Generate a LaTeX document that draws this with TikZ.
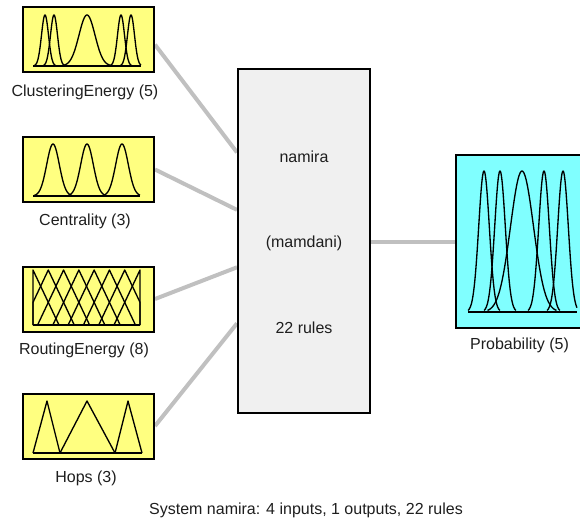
\documentclass[tikz,border=0pt]{standalone}
\usepackage{fontspec}
\setmainfont{Liberation Sans}
\usetikzlibrary{calc,backgrounds}
\definecolor{mfyellow}{HTML}{FFFF80}
\definecolor{mfcyan}{HTML}{80FFFF}
\definecolor{rulegray}{HTML}{F0F0F0}
\definecolor{conngray}{HTML}{C0C0C0}
\definecolor{txt}{HTML}{1E1E1E}
% gaussian MF: center, sigma, xmin, xmax, baseline y, top y
\newcommand\gmf[6]{%
  \pgfmathsetmacro\gmfa{max(#3,#1-3*#2)}%
  \pgfmathsetmacro\gmfb{min(#4,#1+3*#2)}%
  \draw[mf] plot[domain=\gmfa:\gmfb,samples=60,smooth]
    (\x,{#5-(#5-#6)*exp(-((\x-#1)*(\x-#1))/(2*#2*#2))});%
}
\begin{document}
\begin{tikzpicture}[x=0.75pt,y=-0.75pt,
  inbox/.style={draw=black,line width=1.5pt,fill=mfyellow,minimum width=98.25pt,minimum height=48.75pt,inner sep=0pt},
  rulebox/.style={draw=black,line width=1.5pt,fill=rulegray,minimum width=99pt,minimum height=258pt,inner sep=0pt},
  outbox/.style={draw=black,line width=1.5pt,fill=mfcyan,minimum width=96pt,minimum height=129.75pt,inner sep=0pt},
  conn/.style={draw=conngray,line width=3pt},
  mf/.style={draw=black,line width=1pt,line join=round},
  lbl/.style={text=txt,font=\fontsize{12}{14}\selectfont,inner sep=0pt}]
\useasboundingbox (0,0) rectangle (580,520);

\node[inbox] (in1) at (88.5,40) {};
\node[inbox] (in2) at (88.5,169.5) {};
\node[inbox] (in3) at (88.5,299) {};
\node[inbox] (in4) at (88.5,426) {};
\node[rulebox] (rule) at (304,241) {};
\node[outbox] (out) at (520,241.5) {};

\begin{scope}[on background layer]
\draw[conn] ([yshift=-3.5pt]in1.east) -- ($(rule.north west)!0.244!(rule.south west)$);
\draw[conn] (in2.east) -- ($(rule.north west)!0.410!(rule.south west)$);
\draw[conn] (in3.east) -- ($(rule.north west)!0.576!(rule.south west)$);
\draw[conn] (in4.east) -- ($(rule.north west)!0.738!(rule.south west)$);
\draw[conn] (rule.east |- out.west) -- (out.west);
\end{scope}

% ClusteringEnergy (5)
\draw[mf] (33,66) -- (141,66);
\gmf{45}{3.5}{33}{141}{66}{15}
\gmf{54}{3.5}{33}{141}{66}{15}
\gmf{87}{8}{33}{141}{66}{15}
\gmf{121}{3.5}{33}{141}{66}{15}
\gmf{131}{3.5}{33}{141}{66}{15}

% Centrality (3)
\draw[mf] (33,196) -- (140,196);
\gmf{53}{6.3}{33}{140}{196}{144}
\gmf{87}{6.3}{33}{140}{196}{144}
\gmf{122}{6.3}{33}{140}{196}{144}

% RoutingEnergy (8)
\draw[mf] (33,325) -- (140,325);
\foreach \k in {0,...,7}{
  \pgfmathsetmacro\rc{33+\k*107/7}
  \pgfmathsetmacro\rl{max(33,\rc-26)}
  \pgfmathsetmacro\rr{min(140,\rc+26)}
  \pgfmathsetmacro\yl{325-55*(1-(\rc-\rl)/26)}
  \pgfmathsetmacro\yr{325-55*(1-(\rr-\rc)/26)}
  \draw[mf] (\rl,325) -- (\rl,\yl) -- (\rc,270) -- (\rr,\yr) -- (\rr,325);
}

% Hops (3)
\draw[mf] (33,453) -- (142,453);
\draw[mf] (33,453) -- (47,401) -- (60,453);
\draw[mf] (60,453) -- (87,401) -- (115,453);
\draw[mf] (115,453) -- (128,401) -- (142,453);

% Probability (5)
\draw[mf] (468,312) -- (577,312);
\gmf{484}{5.3}{468}{577}{312}{171}
\gmf{500}{5.3}{468}{577}{312}{171}
\gmf{522}{11.5}{468}{577}{312}{171}
\gmf{544}{5.3}{468}{577}{312}{171}
\gmf{563}{5.3}{468}{577}{312}{171}

% labels
\node[lbl] (l1) at (85,92) {ClusteringEnergy (5)};
\node[lbl] (l2) at (85,221) {Centrality (3)};
\node[lbl] (l3) at (84,350) {RoutingEnergy (8)};
\node[lbl] (l4) at (86,478) {Hops (3)};
\node[lbl] (l5) at (519.5,345) {Probability (5)};
\node[lbl] (t1) at (rule.center |- 0,157) {namira};
\node[lbl] (t2) at (rule.center |- 0,243) {(mamdani)};
\node[lbl] (t3) at (rule.center |- 0,328) {22 rules};
\node[lbl] (sys) at (306,510) {System namira: 4 inputs, 1 outputs, 22 rules};
\end{tikzpicture}
\end{document}
